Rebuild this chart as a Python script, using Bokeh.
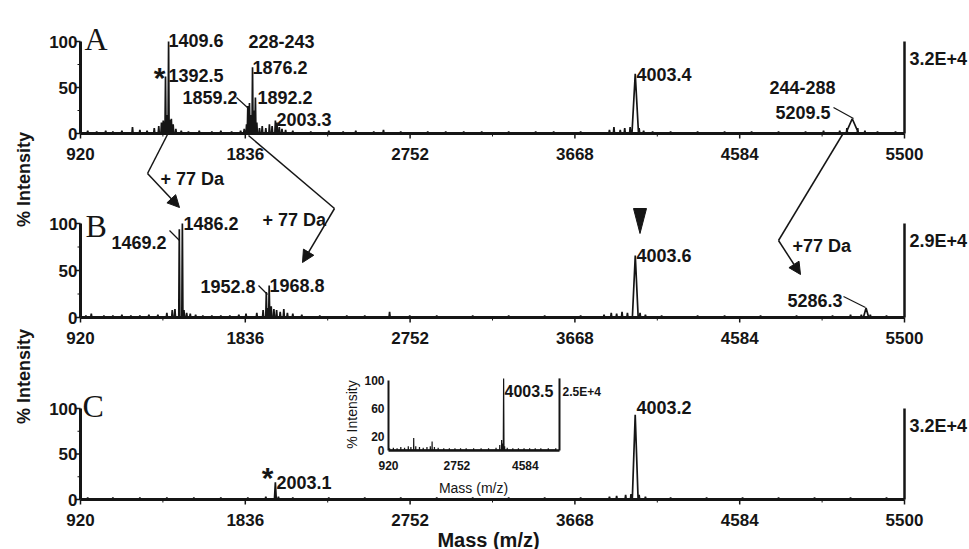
import numpy as np
from bokeh.plotting import figure
from bokeh.models import Range1d, Arrow, NormalHead
from bokeh.core.properties import value
from bokeh.embed import file_html
from bokeh.resources import INLINE

# ---------------- data ----------------
x_ticks = [920, 1836, 2752, 3668, 4584, 5500]
y_ticks = [0, 50, 100]
inset_x_ticks = [920, 2752, 4584]
inset_y_ticks = [0, 20, 60, 100]

# (m/z, % intensity)
spec_a = [(960, 3), (1010, 2), (1060, 3), (1100, 2), (1150, 3), (1209, 7), (1250, 4), (1290, 3),
          (1330, 6), (1355, 8), (1370, 12), (1380, 14), (1392.5, 62), (1400, 20), (1409.6, 100),
          (1418, 15), (1425, 16), (1435, 10), (1450, 5), (1480, 3), (1520, 2), (1580, 3), (1650, 2),
          (1700, 3), (1760, 2), (1810, 3), (1830, 5), (1843, 10), (1850, 30), (1859.2, 33), (1866, 20),
          (1876.2, 72), (1884, 25), (1892.2, 39), (1900, 12), (1915, 6), (1930, 8), (1950, 6),
          (1970, 10), (1985, 8), (2003.3, 14), (2012, 12), (2025, 7), (2040, 5), (2060, 4), (2100, 3),
          (2200, 2), (2300, 3), (2380, 2), (2450, 3), (2550, 2), (2604, 4), (2700, 2), (2850, 2),
          (2950, 2), (3050, 2), (3150, 2), (3300, 2), (3450, 2), (3550, 2), (3700, 2), (3860, 4),
          (3885, 7), (3920, 4), (3945, 6), (3975, 7), (4003.4, 65), (4025, 6), (4050, 3), (4100, 2),
          (4200, 2), (4350, 2), (4500, 2), (4650, 2), (4800, 2), (4950, 2), (5050, 3), (5140, 3),
          (5180, 6), (5209.5, 16), (5240, 6), (5280, 3), (5350, 2), (5450, 2)]
spec_b = [(950, 2), (980, 4), (1050, 2), (1100, 2), (1150, 3), (1200, 2), (1250, 2), (1300, 3),
          (1350, 3), (1400, 5), (1430, 8), (1445, 9), (1469.2, 94), (1486.2, 100), (1495, 8),
          (1510, 5), (1530, 4), (1560, 3), (1600, 2), (1650, 2), (1700, 2), (1750, 2), (1800, 3),
          (1840, 4), (1900, 5), (1935, 8), (1952.8, 27), (1960, 10), (1968.8, 34), (1980, 12),
          (1995, 9), (2010, 8), (2030, 6), (2050, 9), (2070, 5), (2100, 4), (2150, 3), (2250, 2),
          (2400, 2), (2500, 2), (2638, 6), (2750, 2), (2900, 2), (3100, 2), (3300, 2), (3500, 2),
          (3700, 2), (3830, 3), (3870, 5), (3900, 4), (3930, 6), (3960, 5), (4003.6, 66), (4030, 5),
          (4060, 3), (4150, 2), (4350, 2), (4500, 2), (4700, 2), (4900, 2), (5100, 2), (5200, 3),
          (5260, 3), (5286.3, 10), (5310, 3), (5400, 2)]
spec_c = [(960, 2), (1100, 2), (1250, 2), (1400, 2), (1550, 2), (1700, 2), (1850, 2), (1950, 3),
          (2003.1, 19), (2020, 3), (2100, 2), (2300, 2), (2500, 2), (2700, 2), (2900, 2), (3100, 2),
          (3300, 2), (3500, 2), (3700, 2), (3860, 3), (3900, 4), (3950, 5), (3980, 6), (4003.2, 93),
          (4025, 5), (4060, 3), (4200, 2), (4400, 2), (4600, 2), (4800, 2), (5000, 2), (5200, 2),
          (5400, 2)]
spec_inset = [(950, 3), (1050, 4), (1150, 3), (1250, 5), (1350, 4), (1450, 6), (1520, 5), (1595, 18),
              (1650, 6), (1750, 5), (1850, 4), (1950, 5), (2040, 6), (2088, 13), (2150, 5), (2250, 4),
              (2400, 3), (2550, 3), (2700, 3), (2850, 3), (3000, 3), (3200, 3), (3400, 3), (3600, 3),
              (3800, 4), (3900, 8), (3950, 15), (3975, 10), (4003.5, 103), (4030, 6), (4100, 4),
              (4250, 3), (4400, 3), (4550, 3), (4700, 3), (4850, 3), (5000, 3), (5200, 3), (5400, 3)]
full_scale = {"A": "3.2E+4", "B": "2.9E+4", "C": "3.2E+4"}
inset_full_scale = "2.5E+4"

# ---------------- layout (pixel anchors of the reference) ----------------
W, H = 969, 549
OFF = 0
def X(ix):
    return 920 + (ix - 80) * 4580.0 / 824.0
panels = {"A": (133, 41), "B": (317, 223), "C": (499, 408)}
def Y(pn, iy):
    b, t = panels[pn]
    return (b - iy) / float(b - t) * 100.0
def IX(ix):
    return 920 + (ix - 388) * 4580.0 / 171.0
def IY(iy):
    return (450 - iy) / 70.0 * 100.0

p = figure(width=W, height=H, output_backend="svg", toolbar_location=None, tools="",
           x_range=Range1d(X(OFF), X(OFF + W)),
           y_range=Range1d(Y("A", OFF + H), Y("A", OFF)),
           min_border=0, x_axis_location=None, y_axis_location=None,
           background_fill_color="white", border_fill_color="white")
p.outline_line_color = None
p.grid.visible = False
p.extra_y_ranges = {"B": Range1d(Y("B", OFF + H), Y("B", OFF)),
                    "C": Range1d(Y("C", OFF + H), Y("C", OFF)),
                    "inset": Range1d(IY(OFF + H), IY(OFF))}
p.extra_x_ranges = {"inset": Range1d(IX(OFF), IX(OFF + W))}

INK = "#151515"
FONT = "Liberation Sans"
broad = {4003.4: 18, 4003.6: 16, 4003.2: 16, 5209.5: 35, 5286.3: 14, 2003.1: 5, 4003.5: 10}

def profile(spec):
    xs, ys = [], []
    for m, h in sorted(spec):
        w = broad.get(m, 3.0)
        xs += [m - w, m, m + w]
        ys += [0.5, h, 0.5]
    return xs, ys

def txt(ix, iy, s, size="18px", align="left", base="alphabetic", style="bold", font=FONT, angle=0.0):
    p.text(x=[X(ix)], y=[Y("A", iy)], text=[s], text_font=value(font), text_font_size=value(size),
           text_font_style=style, text_align=align, text_baseline=base, angle=angle, text_color=INK)

def seg(p0, p1, lw=1.2):
    p.line([X(p0[0]), X(p1[0])], [Y("A", p0[1]), Y("A", p1[1])], line_width=lw, color=INK)

# ---------------- three main panels ----------------
for pn, rn, spec in (("A", "default", spec_a), ("B", "B", spec_b), ("C", "C", spec_c)):
    b, t = panels[pn]
    xs, ys = profile(spec)
    p.line(xs, ys, line_width=1.7, color=INK, y_range_name=rn)
    p.segment(x0=[x_ticks[0]], y0=[0], x1=[x_ticks[-1]], y1=[0], line_width=3, color=INK, y_range_name=rn)
    p.segment(x0=[x_ticks[0]], y0=[0], x1=[x_ticks[0]], y1=[y_ticks[-1]], line_width=3, color=INK, y_range_name=rn)
    p.segment(x0=[x_ticks[-1]], y0=[0], x1=[x_ticks[-1]], y1=[y_ticks[-1]], line_width=2.5, color=INK, y_range_name=rn)
    p.segment(x0=x_ticks, y0=[0] * 6, x1=x_ticks, y1=[Y(pn, b + 5)] * 6, line_width=1.5, color=INK, y_range_name=rn)
    mids = [(x_ticks[i] + x_ticks[i + 1]) / 2 for i in range(5)]
    p.segment(x0=mids, y0=[0] * 5, x1=mids, y1=[Y(pn, b + 3)] * 5, line_width=1, color=INK, y_range_name=rn)
    p.segment(x0=[X(75)] * 3, y0=y_ticks, x1=[920] * 3, y1=y_ticks, line_width=1.5, color=INK, y_range_name=rn)
    p.segment(x0=[X(77)] * 2, y0=[25, 75], x1=[920] * 2, y1=[25, 75], line_width=1, color=INK, y_range_name=rn)
    p.text(x=x_ticks, y=[Y(pn, b + 20)] * 6, text=[str(v) for v in x_ticks], text_font=value(FONT),
           text_font_size=value("17px"), text_font_style="bold", text_align="center",
           text_baseline="alphabetic", text_color=INK, y_range_name=rn)
    p.text(x=[X(77)] * 3, y=y_ticks, text=[str(v) for v in y_ticks], text_font=value(FONT),
           text_font_size=value("17px"), text_font_style="bold", text_align="right",
           text_baseline="middle", text_color=INK, y_range_name=rn)
    p.text(x=[X(909)], y=[Y(pn, t + 17)], text=[full_scale[pn]], text_font=value(FONT),
           text_font_size=value("18px"), text_font_style="bold", text_align="left",
           text_baseline="alphabetic", text_color=INK, y_range_name=rn)

# panel letters
txt(84, 38, "A", size="32px", style="normal", font="Liberation Serif")
txt(85, 225, "B", size="32px", style="normal", font="Liberation Serif")
txt(82, 405, "C", size="32px", style="normal", font="Liberation Serif")

# axis titles
txt(23, 179, "% Intensity", size="18px", align="center", base="middle", angle=np.pi / 2)
txt(23, 376, "% Intensity", size="18px", align="center", base="middle", angle=np.pi / 2)
txt(488, 539, "Mass (m/z)", size="20px", align="center")

# panel A labels
txt(168, 40, "1409.6")
txt(159, 77, "*", size="30px", align="center")
txt(168, 75, "1392.5")
txt(248, 41, "228-243")
txt(252, 67, "1876.2")
txt(257, 97, "1892.2")
txt(237, 97, "1859.2", align="right")
seg((236, 97), (248, 108))
txt(276, 119, "2003.3")
txt(636, 74, "4003.4")
txt(769, 87, "244-288")
txt(775, 112, "5209.5")
seg((833, 107), (853, 118))

# panel B labels
txt(183, 223, "1486.2")
txt(166, 242, "1469.2", align="right")
seg((169, 230), (179, 240))
txt(255, 286, "1952.8", align="right")
seg((258, 285), (267, 294))
txt(269, 285, "1968.8")
txt(636, 255, "4003.6")
p.patch([X(633), X(646), X(639.5)], [Y("A", 208), Y("A", 208), Y("A", 233)], color=INK)
txt(787, 300, "5286.3")
seg((843, 296), (865, 307))

# +77 Da arrows
txt(160, 178, "+ 77 Da")
txt(262, 219, "+ 77 Da")
txt(792, 245, "+77 Da")
head = dict(size=12, fill_color=INK, line_color=INK)
for pts in ([(167, 134), (147, 173), (179, 207)],
            [(248, 135), (334, 208), (302, 262)],
            [(842, 134), (778, 240), (800, 274)]):
    seg(pts[0], pts[1], lw=1.5)
    p.add_layout(Arrow(end=NormalHead(**head), x_start=X(pts[1][0]), y_start=Y("A", pts[1][1]),
                       x_end=X(pts[2][0]), y_end=Y("A", pts[2][1]), line_width=1.5, line_color=INK))

# panel C labels
txt(267, 477, "*", size="30px", align="center")
txt(276, 482, "2003.1")
txt(636, 407, "4003.2")

# ---------------- inset ----------------
xs, ys = profile(spec_inset)
p.line(xs, ys, line_width=1.2, color=INK, x_range_name="inset", y_range_name="inset")
p.segment(x0=[920], y0=[0], x1=[5500], y1=[0], line_width=2.5, color=INK, x_range_name="inset", y_range_name="inset")
p.segment(x0=[920], y0=[0], x1=[920], y1=[100], line_width=2, color=INK, x_range_name="inset", y_range_name="inset")
p.segment(x0=[5500], y0=[0], x1=[5500], y1=[103], line_width=2, color=INK, x_range_name="inset", y_range_name="inset")
p.text(x=inset_x_ticks, y=[IY(465)] * 3, text=[str(v) for v in inset_x_ticks], text_font=value(FONT),
       text_font_size=value("12px"), text_font_style="bold", text_align="center",
       text_baseline="alphabetic", text_color=INK, x_range_name="inset", y_range_name="inset")
p.text(x=[IX(384)] * 4, y=inset_y_ticks, text=[str(v) for v in inset_y_ticks], text_font=value(FONT),
       text_font_size=value("12px"), text_font_style="bold", text_align="right",
       text_baseline="middle", text_color=INK, x_range_name="inset", y_range_name="inset")
p.text(x=[IX(562)], y=[IY(391)], text=[inset_full_scale], text_font=value(FONT),
       text_font_size=value("12px"), text_font_style="bold", text_align="left",
       text_baseline="alphabetic", text_color=INK, x_range_name="inset", y_range_name="inset")
txt(504, 390, "4003.5", size="16px")
txt(473, 487, "Mass (m/z)", size="14px", align="center", style="normal")
txt(351, 414, "% Intensity", size="14px", align="center", base="middle", style="normal", angle=np.pi / 2)

open("out.html", "w").write(file_html(p, INLINE))
